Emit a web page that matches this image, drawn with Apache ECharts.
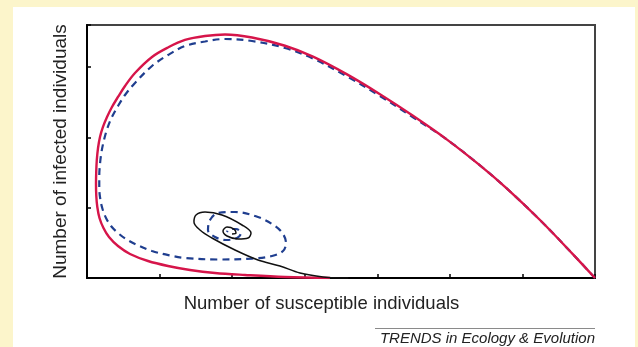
<!DOCTYPE html>
<html><head><meta charset="utf-8">
<script src="https://cdn.jsdelivr.net/npm/echarts@6/dist/echarts.min.js"></script>
<style>html,body{margin:0;padding:0;background:#fcf5cb}#c{width:638px;height:347px}</style>
</head><body><div id="c"></div>
<script>
const xAxisTitle = 'Number of susceptible individuals';
const yAxisTitle = 'Number of infected individuals';
const sourceNote = 'TRENDS in Ecology & Evolution';
const xRange = [0, 7];
const yRange = [0, 3.6];

// trajectories in the (susceptible, infected) plane
const redSolid = [
  [7.00,0.000],[6.697,0.337],[6.242,0.825],[5.787,1.272],[5.415,1.602],[4.961,1.969],
  [4.492,2.308],[4.037,2.615],[3.583,2.897],[3.114,3.149],[2.728,3.305],[2.274,3.422],
  [1.902,3.465],[1.626,3.443],[1.350,3.387],[1.116,3.280],[0.896,3.145],[0.661,2.917],
  [0.524,2.732],[0.427,2.576],[0.344,2.433],[0.276,2.291],[0.220,2.149],[0.179,2.006],
  [0.152,1.850],[0.135,1.679],[0.127,1.508],[0.124,1.338],[0.128,1.167],[0.142,1.010],
  [0.172,0.854],[0.227,0.711],[0.303,0.583],[0.427,0.455],[0.593,0.342],[0.841,0.242],
  [1.116,0.171],[1.419,0.114],[1.764,0.071],[2.177,0.043],[2.728,0.014],[3.348,0.000]
];
const blueDashed = [
  [7.00,0.000],[6.697,0.337],[6.242,0.825],[5.787,1.272],[5.415,1.602],[4.961,1.969],
  [4.492,2.287],[4.037,2.590],[3.583,2.867],[3.114,3.123],[2.728,3.273],[2.274,3.372],
  [1.902,3.401],[1.626,3.365],[1.350,3.301],[1.116,3.173],[0.896,3.017],[0.661,2.775],
  [0.524,2.604],[0.427,2.447],[0.344,2.291],[0.282,2.134],[0.234,1.964],[0.200,1.793],
  [0.179,1.622],[0.169,1.451],[0.169,1.281],[0.183,1.124],[0.214,0.982],[0.262,0.854],
  [0.331,0.740],[0.427,0.640],[0.537,0.555],[0.661,0.484],[0.896,0.384],[1.144,0.320],
  [1.350,0.285],[1.805,0.263],[2.274,0.277],[2.549,0.313],[2.701,0.384],[2.742,0.498],
  [2.701,0.626],[2.591,0.740],[2.356,0.868],[2.039,0.939],[1.805,0.925],[1.695,0.825],
  [1.667,0.683],[1.764,0.583],[1.915,0.541],[2.067,0.569],[2.122,0.640],[2.053,0.697],
  [1.970,0.697],[1.929,0.655]
];
const blackSolid = [
  [3.600,0.000],[3.486,0.000],[3.252,0.014],[2.935,0.071],[2.659,0.171],[2.356,0.256],
  [2.039,0.398],[1.722,0.569],[1.557,0.683],[1.474,0.797],[1.502,0.896],[1.626,0.939],
  [1.860,0.896],[2.136,0.754],[2.260,0.640],[2.219,0.569],[2.081,0.555],[1.929,0.598],
  [1.874,0.669],[1.929,0.726],[2.026,0.697],[2.053,0.640],[1.998,0.626]
];

const chart = echarts.init(document.getElementById('c'), null, {renderer: 'canvas'});
const axisCommon = {
  type: 'value', splitLine: {show: false}, axisLabel: {show: false},
  axisLine: {show: true, lineStyle: {color: '#000', width: 2}},
  axisTick: {show: true, inside: true, length: 4, lineStyle: {color: '#000', width: 1.5}},
  nameLocation: 'middle',
  nameTextStyle: {color: '#222', fontFamily: 'Liberation Sans, Arial, sans-serif'}
};
chart.setOption({
  backgroundColor: '#fcf5cb',
  animation: false,
  graphic: {elements: [
    {type: 'rect', z: -10, shape: {x: 13, y: 7, width: 622, height: 345}, style: {fill: '#ffffff'}},
    {type: 'line', shape: {x1: 375, y1: 328.5, x2: 595, y2: 328.5}, style: {stroke: '#8a8a8a', lineWidth: 1}},
    {type: 'text', right: 43, top: 331, style: {text: sourceNote, fill: '#222', font: 'italic 15px "Liberation Sans", Arial, sans-serif'}}
  ]},
  grid: {left: 87, right: 43, top: 25, bottom: 69, show: true, borderColor: '#444', borderWidth: 2, backgroundColor: '#fff'},
  xAxis: Object.assign({}, axisCommon, {
    min: xRange[0], max: xRange[1], interval: 1, name: xAxisTitle, nameGap: 16,
    nameTextStyle: Object.assign({}, axisCommon.nameTextStyle, {fontSize: 18.5, padding: [0, 39, 0, 0]})
  }),
  yAxis: Object.assign({}, axisCommon, {
    min: yRange[0], max: yRange[1], interval: 1, name: yAxisTitle, nameGap: 17,
    nameTextStyle: Object.assign({}, axisCommon.nameTextStyle, {fontSize: 19})
  }),
  series: [
    {type: 'line', data: blueDashed, smooth: 0.35, symbol: 'none', lineStyle: {color: '#1f3e8f', width: 2.2, type: [7, 5]}},
    {type: 'line', data: redSolid, smooth: 0.35, symbol: 'none', lineStyle: {color: '#d6154a', width: 2.4}},
    {type: 'line', data: blackSolid, smooth: 0.35, symbol: 'none', lineStyle: {color: '#111', width: 1.5}}
  ]
});
</script></body></html>
